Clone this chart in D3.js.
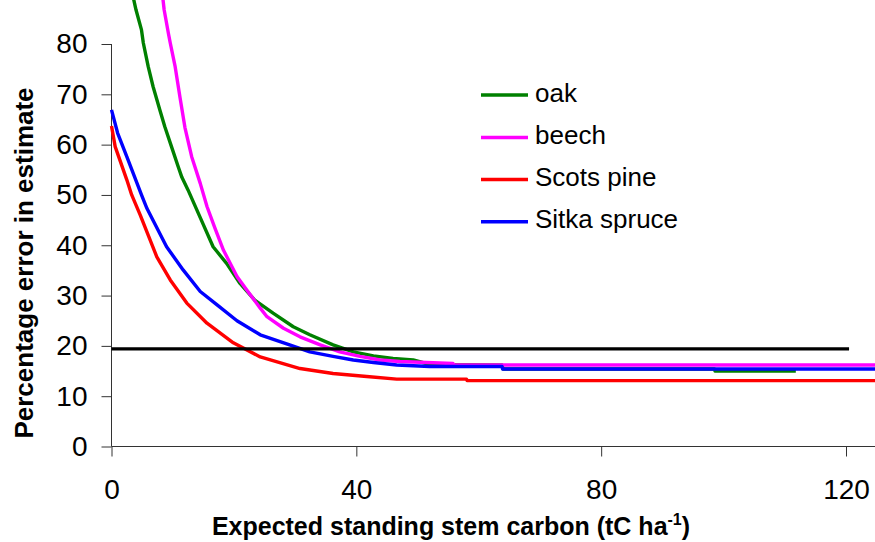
<!DOCTYPE html>
<html>
<head>
<meta charset="utf-8">
<script src="https://cdn.jsdelivr.net/npm/d3@7"></script>
<style>
  body { margin: 0; background: #fff; }
  svg { display: block; font-family: "Liberation Sans", Arial, sans-serif; }
  .axis text { font-size: 28px; fill: #000; }
  .axis path { stroke: #000; }
  .axis line { stroke: #333; }
  .axis-label { font-size: 25px; font-weight: bold; }
  .legend text { font-size: 26px; }
</style>
</head>
<body>
<svg id="graph"></svg>
<script>
// series names and colours (legend order)
const seriesNames = ["oak", "beech", "Scots pine", "Sitka spruce"];
const seriesColors = ["#008000", "#ff00ff", "#ff0000", "#0000ff"];

// [carbon, percentage error]
const oak = [
  [3.6, 89], [4.0, 86.8], [4.9, 82.8], [5.2, 80.2], [6.0, 75.5], [6.8, 71.5],
  [7.9, 66.9], [8.7, 63.6], [9.8, 59.6], [10.9, 55.6], [11.5, 53.5], [12.5, 51],
  [14.5, 45.5], [16.6, 39.7], [18.8, 36.4], [21, 32.4], [23.4, 29.1], [26.4, 26.5],
  [29.7, 23.8], [32.4, 22.2], [36.2, 20.2], [39.5, 18.8], [42.8, 18], [46, 17.5],
  [49.3, 17.2], [52, 16.3], [63.8, 16.2], [64, 15.4], [98.5, 15.4], [98.6, 15.0],
  [111.8, 15.0]
];
const beech = [
  [8.4, 89], [8.6, 86.8], [9.3, 82.1], [9.6, 80.2], [10.4, 75.5], [11.2, 69.3],
  [12.0, 63.4], [13.1, 57.6], [14.5, 52.3], [15.6, 47.7], [16.9, 43.4], [18.3, 39],
  [20.5, 33.8], [22.1, 31.1], [24.3, 27.5], [25.4, 25.8], [28.1, 23.5], [30.8, 21.8],
  [34.1, 20.2], [37.3, 18.8], [40.6, 17.9], [43.9, 17.2], [47.1, 16.9], [55.8, 16.5],
  [56, 16.2], [125, 16.2]
];
const scotsPine = [
  [0, 63.7], [0.6, 59.6], [2.5, 53], [3.3, 50], [4.7, 46], [7.4, 37.7],
  [9.6, 33.1], [12.3, 28.5], [15.6, 24.5], [19.9, 20.6], [24.3, 17.8], [30.8, 15.5],
  [36.2, 14.5], [41.7, 13.9], [46.6, 13.4], [58, 13.4], [58.1, 13.1], [125, 13.1]
];
const sitkaSpruce = [
  [0, 66.9], [1, 62.3], [2.5, 57.6], [4.9, 50], [5.8, 47.3], [9.0, 39.7],
  [11.7, 35.1], [14.5, 30.8], [17.2, 28.2], [20.5, 25], [24.3, 22.2], [29.1, 20.2],
  [32.4, 18.8], [36.2, 17.9], [39.5, 17.2], [42.8, 16.7], [46.6, 16.2], [52, 15.9],
  [63.8, 15.9], [63.9, 15.4], [125, 15.4]
];
const threshold = [[0, 19.4], [120.5, 19.4]];

const xTicks = [0, 40, 80, 120];
const yTicks = [0, 10, 20, 30, 40, 50, 60, 70, 80];

const width = 875;
const height = 542;
const svg = d3.select("#graph").attr("width", width).attr("height", height);

const xScale = d3.scaleLinear().domain([0, 120]).range([111.5, 846]);
const yScale = d3.scaleLinear().domain([0, 80]).range([446.5, 44]);

// y axis
const yAxis = svg.append("g")
  .attr("class", "axis")
  .attr("transform", `translate(${xScale(0)},0)`)
  .call(d3.axisLeft(yScale).tickValues(yTicks).tickSize(10).tickSizeOuter(0).tickPadding(14));
yAxis.select(".domain").remove();
yAxis.append("line")
  .attr("x1", 0).attr("x2", 0)
  .attr("y1", yScale(80)).attr("y2", yScale(0))
  .attr("stroke", "#000");

// x axis
const xAxis = svg.append("g")
  .attr("class", "axis")
  .attr("transform", `translate(0,${yScale(0)})`)
  .call(d3.axisBottom(xScale).tickValues(xTicks).tickSize(10).tickSizeOuter(0).tickPadding(23));
xAxis.select(".domain").remove();
xAxis.append("line")
  .attr("x1", xScale(0)).attr("x2", width)
  .attr("y1", 0).attr("y2", 0)
  .attr("stroke", "#000");

const lineGenerator = d3.line()
  .x((d) => xScale(d[0]))
  .y((d) => yScale(d[1]));

const allSeries = [oak, beech, scotsPine, sitkaSpruce];
allSeries.forEach((s, i) => {
  svg.append("path")
    .datum(s)
    .attr("d", lineGenerator)
    .attr("fill", "none")
    .attr("stroke", seriesColors[i])
    .attr("stroke-width", 3.4)
    .attr("stroke-linejoin", "round");
});

svg.append("path")
  .datum(threshold)
  .attr("d", lineGenerator)
  .attr("fill", "none")
  .attr("stroke", "#000")
  .attr("stroke-width", 3.4);

// legend
const legend = svg.append("g").attr("class", "legend");
const legendY = [95, 137.5, 179.5, 221.7];
seriesNames.forEach((name, i) => {
  legend.append("line")
    .attr("x1", 481).attr("x2", 528)
    .attr("y1", legendY[i]).attr("y2", legendY[i])
    .attr("stroke", seriesColors[i])
    .attr("stroke-width", 3.4);
  legend.append("text")
    .attr("x", 535)
    .attr("y", legendY[i])
    .attr("dy", "0.26em")
    .text(name);
});

// axis titles
const xTitle = svg.append("text")
  .attr("class", "axis-label")
  .attr("x", 451)
  .attr("y", 535)
  .attr("text-anchor", "middle");
xTitle.append("tspan").text("Expected standing stem carbon (tC ha");
xTitle.append("tspan").attr("dy", -10).style("font-size", "16px").text("-1");
xTitle.append("tspan").attr("dy", 10).text(")");

svg.append("text")
  .attr("class", "axis-label")
  .attr("transform", "translate(33,263) rotate(-90)")
  .attr("text-anchor", "middle")
  .style("font-size", "26px")
  .text("Percentage error in estimate");
</script>
</body>
</html>
